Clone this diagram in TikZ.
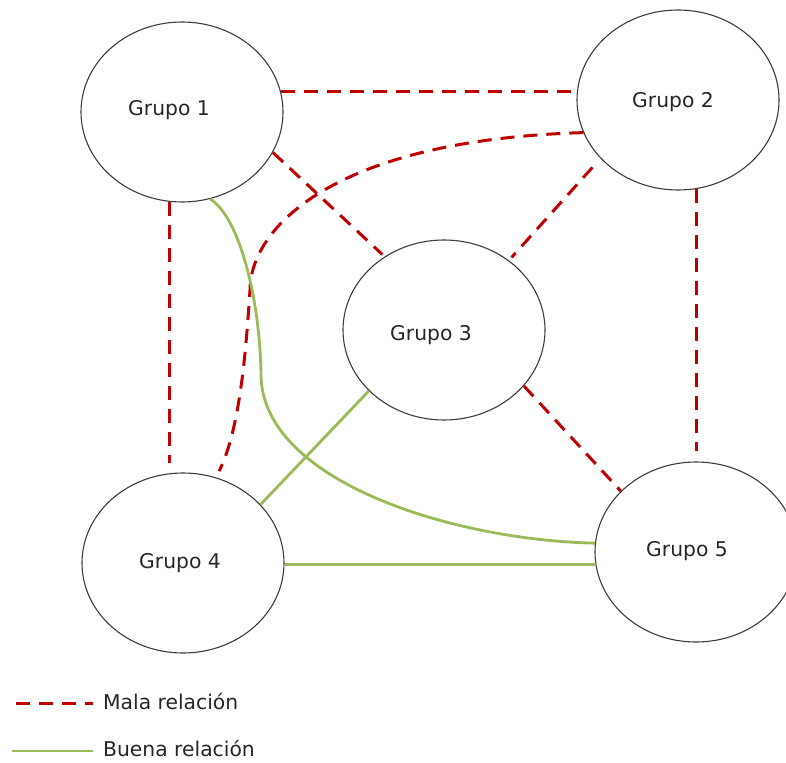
\documentclass[tikz,border=0pt]{standalone}
\usepackage{fontspec}
\setmainfont{DejaVu Sans}
\usetikzlibrary{shapes.geometric}
\definecolor{malared}{RGB}{192,0,0}
\definecolor{buenagreen}{RGB}{155,187,89}
\definecolor{outlinegray}{RGB}{60,60,60}
\begin{document}
\begin{tikzpicture}[x=1pt,y=-1pt,
  grupo/.style={draw=outlinegray, line width=1.1pt, ellipse, minimum width=202pt, minimum height=180pt, inner sep=0pt},
  glabel/.style={font=\fontsize{20.3}{24}\selectfont, text=black!85, inner sep=0pt},
  mala/.style={draw=malared, line width=3pt, dash pattern=on 14pt off 9pt},
  buena/.style={draw=buenagreen, line width=2.8pt}]
\path[use as bounding box, clip] (0,0) rectangle (786,762);

% groups
\node[grupo] (g1) at (182,112) {};
\node[grupo] (g2) at (678,100) {};
\node[grupo] (g3) at (444,330) {};
\node[grupo] (g4) at (183,563) {};
\node[grupo] (g5) at (696,552) {};

\node[glabel] (t1) at (169,110) {Grupo 1};
\node[glabel] (t2) at (673,102) {Grupo 2};
\node[glabel] (t3) at (431,335) {Grupo 3};
\node[glabel] (t4) at (180,563) {Grupo 4};
\node[glabel] (t5) at (687,551) {Grupo 5};

% bad relations
\draw[mala] (g1.12.7) -- (g1.12.7 -| g2.174.3);
\draw[mala, shorten >=3pt] (g1.-24) -- (g3.129.5);
\draw[mala, shorten >=10pt] (g1.262.4) -- (g1.262.4 |- g4.98.3);
\draw[mala, shorten <=12pt, shorten >=4pt] (g2.217.9) -- (g3.47);
\draw[mala, shorten >=10pt] (g2.-78.5) -- (g2.-78.5 |- g5.90);
\draw[mala] (g3.-35.9) -- (g5.141);
\draw[mala, shorten >=7pt] (g2.199) .. controls (330,140) and (250,230) .. (250,290)
      .. controls (246,350) and (240,430) .. (g4.69.5);

% good relations
\draw[buena] (g1.-72.3) .. controls (240,218) and (260,300) .. (261,375)
      .. controls (262,480) and (450,540) .. (g5.175);
\draw[buena] (g3.219.7) -- (g4.37);
\draw[buena] (g4.-1.7) -- (g4.-1.7 -| g5.188);

% legend
\coordinate (l1a) at (16,703);
\coordinate (l1b) at (93,703);
\coordinate (l2a) at (12,751);
\coordinate (l2b) at (93,751);
\draw[mala] (l1a) -- (l1b);
\draw[buena] (l2a) -- (l2b);
\node[glabel, anchor=west] (lt1) at (103,702) {Mala relación};
\node[glabel, anchor=west] (lt2) at (103,749) {Buena relación};
\end{tikzpicture}
\end{document}
